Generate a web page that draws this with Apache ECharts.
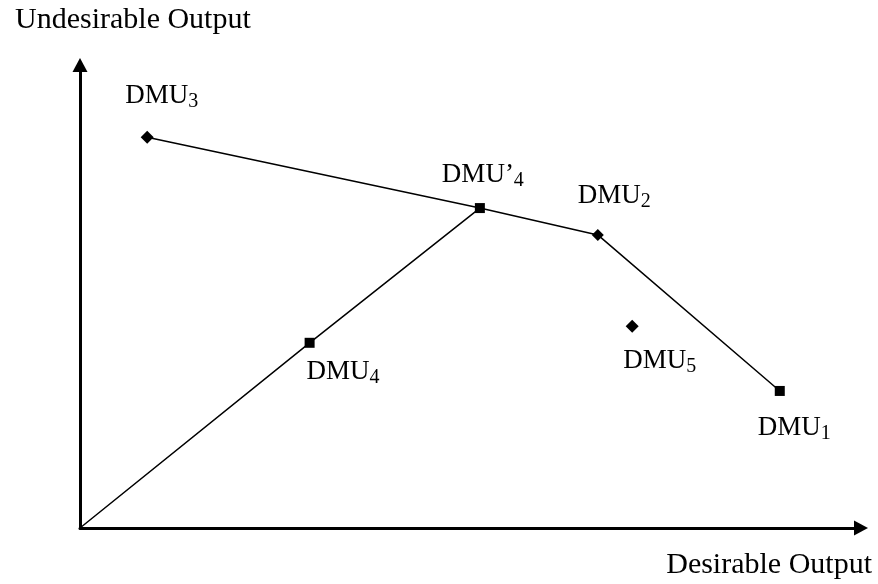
<!DOCTYPE html>
<html>
<head>
<meta charset="utf-8">
<title>DMU</title>
<script src="https://cdn.jsdelivr.net/npm/echarts@6.0.0/dist/echarts.min.js"></script>
<style>
    html, body { margin: 0; padding: 0; background: #fff; }
    #main { width: 878px; height: 584px; }
</style>
</head>
<body>
<div id="main"></div>
<script>
// data (axis units 0-100, no ticks on the original)
var dmuNames = ['DMU’', 'DMU', 'DMU', 'DMU', 'DMU', 'DMU'];
var dmuSubs  = ['4', '3', '2', '1', '5', '4'];
var dmuX     = [51.2, 8.6, 66.3, 89.6, 70.7, 29.4];
var dmuY     = [69.1, 84.4, 63.3, 29.6, 43.6, 40.0];
// frontier: DMU3 -> DMU'4 -> DMU2 -> DMU1
var frontierX = [8.6, 51.2, 66.3, 89.6];
var frontierY = [84.4, 69.1, 63.3, 29.6];
// ray from origin through DMU4 to DMU'4
var rayX = [0, 29.4, 51.2];
var rayY = [0, 40.0, 69.1];
var xName = 'Desirable Output';
var yName = 'Undesirable Output';

var font = '"Liberation Serif", "Times New Roman", serif';

// marker shapes + where each label sits relative to its marker
var shapes = ['rect', 'diamond', 'diamond', 'rect', 'diamond', 'rect'];
var sizes = [10, 13, 12, 10, 13, 10];
var labelOffsets = [[-38, -33], [-22, -41], [-20, -39], [-22, 37], [-9, 35], [-3, 29]];

function pairs(xs, ys){
    var out = [];
    for(var i = 0; i < xs.length; i++){
        out.push([xs[i], ys[i]]);
    }
    return out;
}

var points = [];
for(var i = 0; i < dmuNames.length; i++){
    points.push({
        value: [dmuX[i], dmuY[i]],
        symbol: shapes[i],
        symbolSize: sizes[i],
        label: {
            offset: labelOffsets[i],
            formatter: '{m|' + dmuNames[i] + '}{s|' + dmuSubs[i] + '}'
        }
    });
}

var axisCommon = {
    type: 'value',
    min: 0,
    max: 100,
    splitLine: {show: false},
    axisTick: {show: false},
    axisLabel: {show: false},
    axisLine: {
        show: true,
        symbol: ['none', 'triangle'],
        symbolSize: [15, 14],
        lineStyle: {color: '#000', width: 3}
    }
};

var myChart = echarts.init(document.getElementById('main'));
myChart.setOption({
    animation: false,
    backgroundColor: '#fff',
    textStyle: {fontFamily: font},
    title: [{
        text: yName,
        left: 15,
        top: 5,
        padding: 0,
        textStyle: {fontFamily: font, fontSize: 30, fontWeight: 'normal', color: '#000'}
    }, {
        text: xName,
        right: 6,
        top: 550,
        padding: 0,
        textStyle: {fontFamily: font, fontSize: 30, fontWeight: 'normal', color: '#000'}
    }],
    grid: {left: 80, right: 17, top: 65, bottom: 56},
    xAxis: axisCommon,
    yAxis: axisCommon,
    series: [{
        type: 'line',
        data: pairs(frontierX, frontierY),
        symbol: 'none',
        lineStyle: {color: '#000', width: 1.5},
        z: 2
    }, {
        type: 'line',
        data: pairs(rayX, rayY),
        symbol: 'none',
        lineStyle: {color: '#000', width: 1.5},
        z: 2
    }, {
        type: 'scatter',
        data: points,
        itemStyle: {color: '#000', opacity: 1},
        z: 3,
        label: {
            show: true,
            position: 'inside',
            align: 'left',
            verticalAlign: 'middle',
            color: '#000',
            opacity: 1,
            rich: {
                m: {fontFamily: font, fontSize: 27, lineHeight: 27, color: '#000', verticalAlign: 'top'},
                // subscript: pushed down a little below the DMU baseline
                s: {fontFamily: font, fontSize: 20, lineHeight: 14, color: '#000', verticalAlign: 'top', padding: [9, 0, 0, 0]}
            }
        }
    }]
});
</script>
</body>
</html>
